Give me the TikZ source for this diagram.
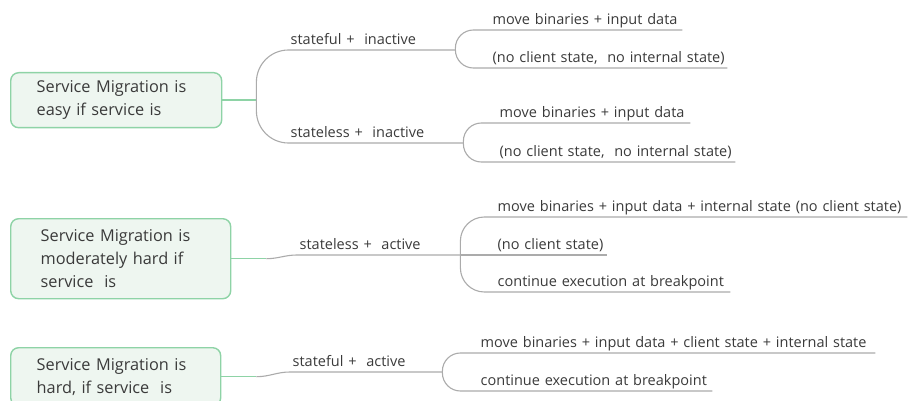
\documentclass[tikz,border=0pt]{standalone}
\usepackage{fontspec}
\setmainfont{Open Sans}
\definecolor{txt}{HTML}{3A3A3A}
\definecolor{linegray}{HTML}{ABABAB}
\definecolor{boxline}{HTML}{8ED3A6}
\definecolor{boxfill}{HTML}{EEF6F0}
\begin{document}
\begin{tikzpicture}[x=1pt,y=-1pt,
  topic/.style={draw=boxline, fill=boxfill, line width=1.4pt, rounded corners=8pt,
    align=left, anchor=north west, text=txt, font=\fontsize{16.3}{23}\selectfont},
  lbl/.style={anchor=south west, inner xsep=2.5pt, inner ysep=0pt, text depth=5pt,
    align=left, text=txt, font=\fontsize{14.5}{18}\selectfont},
  branch/.style={draw=linegray, line width=1.1pt},
  stem/.style={draw=boxline, line width=1.4pt}]
\useasboundingbox (0,0) rectangle (910,401);
\clip (0,0) rectangle (910,401);

% central topics
\node[topic, text width=159pt, inner xsep=26pt, minimum height=55pt] (easy) at (10,72)
  {Service Migration is\\easy if service is};
\node[topic, text width=160pt, inner xsep=30pt, minimum height=80pt] (mod) at (10,218)
  {Service Migration is\\moderately hard if\\service~ is};
\node[topic, text width=158pt, inner xsep=26pt, minimum height=58pt] (hard) at (10,347)
  {Service Migration is\\hard, if service~ is};

% first-level labels
\node[lbl, text width=162pt] (sfi) at (288,50)  {\mbox{stateful +~ inactive}};
\node[lbl, text width=170pt] (sli) at (288,143) {\mbox{stateless +~ inactive}};
\node[lbl, text width=158pt] (sla) at (297,255) {\mbox{stateless +~ active}};
\node[lbl, text width=147pt] (sfa) at (290,372) {\mbox{stateful +~ active}};

% leaves
\node[lbl, text width=187pt] (a1) at (490,30)  {\mbox{move binaries + input data}};
\node[lbl, text width=232pt] (a2) at (490,68)  {\mbox{(no client state,~ no internal state)}};
\node[lbl, text width=188pt] (b1) at (497,123) {\mbox{move binaries + input data}};
\node[lbl, text width=233pt] (b2) at (497,162) {\mbox{(no client state,~ no internal state)}};
\node[lbl, text width=407pt] (c1) at (495,217) {\mbox{move binaries + input data + internal state (no client state)}};
\node[lbl, text width=107pt] (c2) at (495,255) {\mbox{(no client state)}};
\node[lbl, text width=230pt] (c3) at (495,292) {\mbox{continue execution at breakpoint}};
\node[lbl, text width=392pt] (d1) at (478,353) {\mbox{move binaries + input data + client state + internal state}};
\node[lbl, text width=229pt] (d2) at (478,391) {\mbox{continue execution at breakpoint}};

% junctions just right of the topics
\coordinate (j1) at ([xshift=34pt]easy.east);
\coordinate (j2) at ([xshift=35pt]mod.east);
\coordinate (j3) at ([xshift=35pt]hard.east);
\draw[stem] (easy.east) -- (j1);
\draw[stem] (mod.east) -- (j2);
\draw[stem] (hard.east) -- (j3);

% first-level branches
\draw[branch, rounded corners=32pt] (j1) |- (sfi.south east);
\draw[branch, rounded corners=32pt] (j1) |- (sli.south east);
\draw[branch] (j2) to[out=0,in=180] (sla.south west) -- (sla.south east);
\draw[branch] (j3) to[out=0,in=180] (sfa.south west) -- (sfa.south east);

% leaf branches
\draw[branch, rounded corners=18pt] (sfi.south east) |- (a1.south east);
\draw[branch, rounded corners=18pt] (sfi.south east) |- (a2.south east);
\draw[branch, rounded corners=18pt] (sli.south east) |- (b1.south east);
\draw[branch, rounded corners=18pt] (sli.south east) |- (b2.south east);
\draw[branch, rounded corners=24pt] (sla.south east) |- (c1.south east);
\draw[branch] (sla.south east) -- (c2.south east);
\draw[branch, rounded corners=24pt] (sla.south east) |- (c3.south east);
\draw[branch, rounded corners=18pt] (sfa.south east) |- (d1.south east);
\draw[branch, rounded corners=18pt] (sfa.south east) |- (d2.south east);
\end{tikzpicture}
\end{document}
